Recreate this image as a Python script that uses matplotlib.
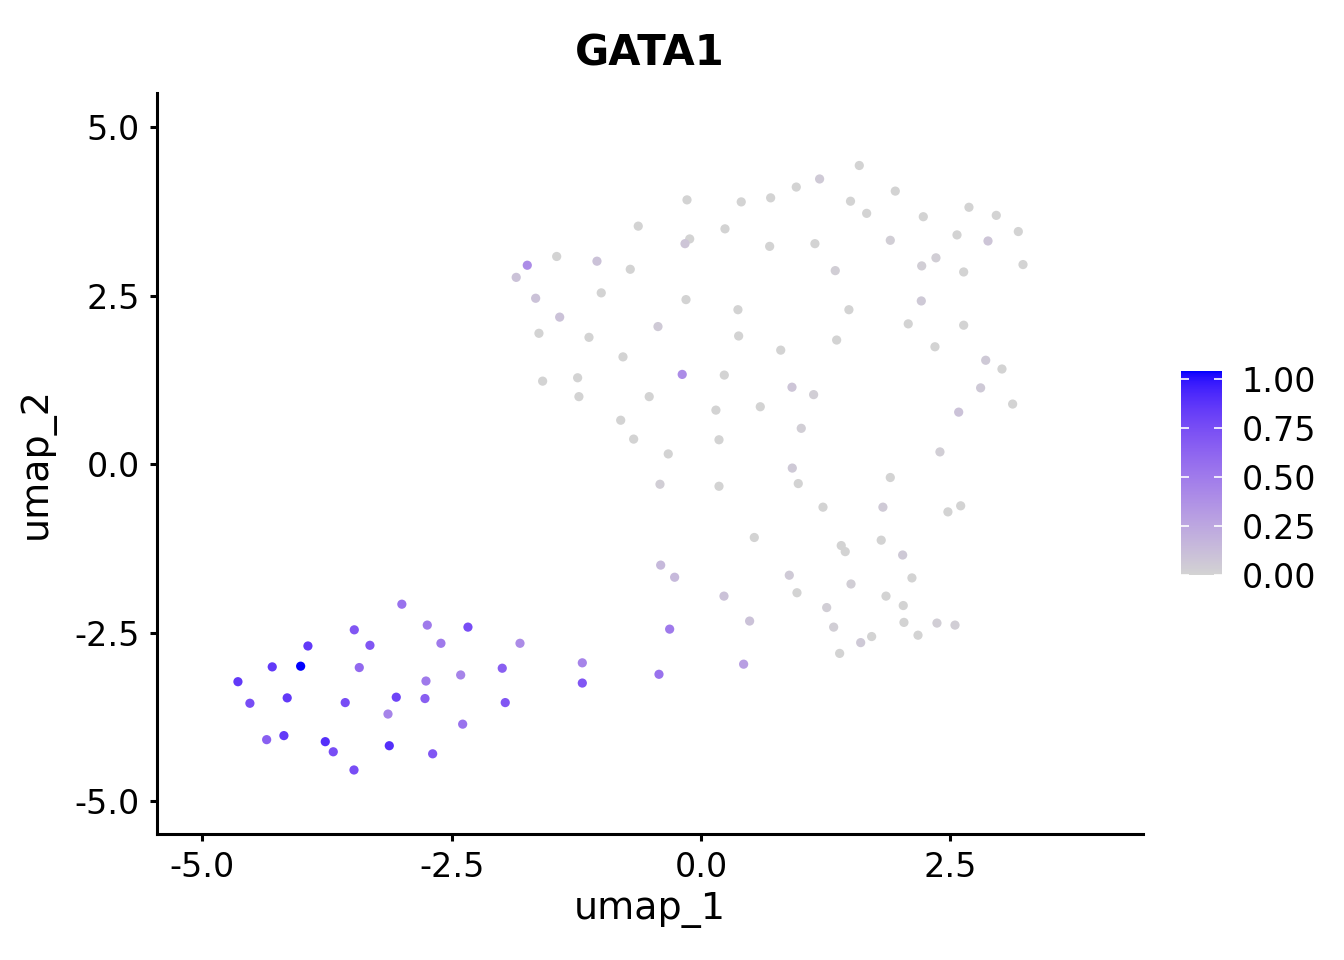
import numpy as np
import matplotlib
matplotlib.use('Agg')
import matplotlib.pyplot as plt
from matplotlib.colors import ListedColormap

# UMAP coordinates and GATA1 expression per cell
umap_1 = [
    -3.00, -2.745, -2.337, -3.477, -3.32, -2.608, -1.815, -3.942, -4.30, -4.015,
    -3.427, -1.993, -4.644, -2.758, -2.41, -4.524, -4.15, -3.568, -3.056, -2.768,
    -1.963, -3.139, -2.39, -4.356, -4.183, -3.768, -3.688, -3.126, -2.691, -3.48,
    0.535, -0.404, -0.264, 0.886, 0.963, 0.231, 0.488, -0.314, -1.19, -1.19,
    -0.421, 0.428,
    -0.14, 0.404, -0.629, 0.241, -0.113, -0.16, 0.689, -1.447, -1.742, -1.043,
    -0.709, -1.853, -1.658, -1.00, -0.15, 0.371, -1.417, -0.431, -1.625, -1.123,
    0.378, 0.80, -0.782, -0.188, 0.234, -1.588, -1.237, -1.224, -0.519, 0.913,
    1.588, 1.19, 0.956, 0.699, 1.949, 1.50, 1.662, 2.23, 2.688, 2.962,
    3.183, 2.568, 2.879, 1.143, 1.899, 2.357, 2.214, 2.635, 3.23, 1.347,
    2.21, 1.484, 2.079, 2.635, 1.361, 2.347,
    1.13, 0.15, 0.595, -0.805, -0.675, 0.181, 1.006, -0.328, 0.916, 1.899,
    -0.411, 0.181, 0.976, 1.224, 1.825, 1.808, 2.856, 3.019, 2.805, 3.126,
    2.585, 2.397, 2.477, 2.605, 1.407, 1.447, 2.023, 1.505, 2.116, 1.261,
    1.856, 2.029, 1.331, 2.036, 2.367, 2.548, 1.602, 1.712, 2.177, 1.391,
]
umap_2 = [
    -2.08, -2.39, -2.42, -2.46, -2.69, -2.66, -2.66, -2.70, -3.01, -3.00,
    -3.02, -3.03, -3.23, -3.22, -3.13, -3.55, -3.47, -3.54, -3.46, -3.48,
    -3.54, -3.71, -3.86, -4.09, -4.03, -4.12, -4.27, -4.18, -4.30, -4.54,
    -1.09, -1.50, -1.68, -1.65, -1.91, -1.96, -2.33, -2.45, -2.95, -3.25,
    -3.12, -2.97,
    3.92, 3.89, 3.53, 3.49, 3.34, 3.27, 3.23, 3.08, 2.95, 3.01,
    2.89, 2.77, 2.46, 2.54, 2.44, 2.29, 2.18, 2.04, 1.94, 1.88,
    1.90, 1.69, 1.59, 1.33, 1.32, 1.23, 1.28, 1.00, 1.00, 1.14,
    4.43, 4.23, 4.11, 3.95, 4.05, 3.90, 3.72, 3.67, 3.81, 3.69,
    3.45, 3.40, 3.31, 3.27, 3.32, 3.06, 2.94, 2.85, 2.96, 2.87,
    2.42, 2.29, 2.08, 2.06, 1.84, 1.74,
    1.03, 0.80, 0.85, 0.65, 0.37, 0.36, 0.53, 0.15, -0.06, -0.20,
    -0.30, -0.33, -0.29, -0.64, -0.64, -1.13, 1.54, 1.41, 1.13, 0.89,
    0.77, 0.18, -0.71, -0.62, -1.21, -1.30, -1.35, -1.78, -1.69, -2.13,
    -1.96, -2.10, -2.42, -2.35, -2.36, -2.39, -2.65, -2.56, -2.54, -2.81,
]
gata1 = [
    0.55, 0.50, 0.75, 0.70, 0.70, 0.50, 0.40, 0.85, 0.85, 1.04,
    0.60, 0.65, 0.85, 0.50, 0.45, 0.75, 0.85, 0.75, 0.80, 0.65,
    0.70, 0.45, 0.55, 0.65, 0.85, 0.90, 0.75, 0.90, 0.70, 0.75,
    0.00, 0.15, 0.15, 0.05, 0.00, 0.10, 0.10, 0.50, 0.45, 0.70,
    0.55, 0.30,
    0.00, 0.00, 0.00, 0.00, 0.00, 0.08, 0.00, 0.00, 0.40, 0.10,
    0.00, 0.10, 0.10, 0.00, 0.00, 0.00, 0.10, 0.05, 0.00, 0.00,
    0.00, 0.00, 0.00, 0.40, 0.00, 0.00, 0.00, 0.00, 0.00, 0.08,
    0.00, 0.05, 0.00, 0.00, 0.00, 0.00, 0.00, 0.00, 0.00, 0.00,
    0.00, 0.00, 0.08, 0.00, 0.03, 0.03, 0.03, 0.00, 0.00, 0.03,
    0.06, 0.00, 0.00, 0.00, 0.00, 0.00,
    0.03, 0.00, 0.00, 0.00, 0.00, 0.00, 0.03, 0.00, 0.06, 0.00,
    0.03, 0.00, 0.00, 0.00, 0.05, 0.00, 0.06, 0.00, 0.06, 0.00,
    0.10, 0.03, 0.00, 0.00, 0.00, 0.00, 0.06, 0.03, 0.00, 0.03,
    0.00, 0.00, 0.03, 0.00, 0.03, 0.03, 0.06, 0.00, 0.00, 0.00,
]


def srgb_to_lab(rgb):
    rgb = np.asarray(rgb, dtype=float)
    lin = np.where(rgb <= 0.04045, rgb / 12.92, ((rgb + 0.055) / 1.055) ** 2.4)
    m = np.array([[0.4124, 0.3576, 0.1805],
                  [0.2126, 0.7152, 0.0722],
                  [0.0193, 0.1192, 0.9505]])
    xyz = m @ lin / np.array([0.95047, 1.0, 1.08883])
    f = np.where(xyz > 0.008856, np.cbrt(xyz), 7.787 * xyz + 16 / 116)
    return np.array([116 * f[1] - 16, 500 * (f[0] - f[1]), 200 * (f[1] - f[2])])


def lab_to_srgb(lab):
    L, a, b = lab
    fy = (L + 16) / 116
    f = np.array([fy + a / 500, fy, fy - b / 200])
    xyz = np.where(f ** 3 > 0.008856, f ** 3, (f - 16 / 116) / 7.787)
    xyz = xyz * np.array([0.95047, 1.0, 1.08883])
    m_inv = np.array([[3.2406, -1.5372, -0.4986],
                      [-0.9689, 1.8758, 0.0415],
                      [0.0557, -0.2040, 1.0570]])
    lin = m_inv @ xyz
    rgb = np.where(lin <= 0.0031308, 12.92 * lin, 1.055 * np.abs(lin) ** (1 / 2.4) - 0.055)
    return np.clip(rgb, 0, 1)


# ggplot-style gradient lightgrey -> blue, interpolated in Lab
lab_lo = srgb_to_lab([211 / 255, 211 / 255, 211 / 255])
lab_hi = srgb_to_lab([0.0, 0.0, 1.0])
cols = [lab_to_srgb(lab_lo + t * (lab_hi - lab_lo)) for t in np.linspace(0, 1, 256)]
cmap = ListedColormap(cols)

plt.rcParams['font.family'] = ['DejaVu Sans']

fig = plt.figure(figsize=(6.72, 4.8), dpi=200)
ax = fig.add_axes([0.1168, 0.13125, 0.7336, 0.77175])

vals = np.array(gata1)
sc = ax.scatter(umap_1, umap_2, c=vals, cmap=cmap, vmin=0, vmax=vals.max(),
                s=11, linewidths=0)

ax.set_xlim(-5.456, 4.433)
ax.set_ylim(-5.49, 5.504)
ax.set_xticks([-5.0, -2.5, 0.0, 2.5])
ax.set_yticks([-5.0, -2.5, 0.0, 2.5, 5.0])
ax.set_xticklabels(['-5.0', '-2.5', '0.0', '2.5'])
ax.set_yticklabels(['-5.0', '-2.5', '0.0', '2.5', '5.0'])
for side in ['top', 'right']:
    ax.spines[side].set_visible(False)
for side in ['left', 'bottom']:
    ax.spines[side].set_linewidth(1.1)
ax.tick_params(length=2.6, width=1.1, labelsize=12, pad=3.5, colors='black')

ax.set_xlabel('umap_1', fontsize=13.7, labelpad=3)
ax.set_ylabel('umap_2', fontsize=13.7, labelpad=7)
ax.set_title('GATA1', fontsize=15, fontweight='bold', pad=10)

cax = fig.add_axes([0.8787, 0.401, 0.0305, 0.2125])
cb = fig.colorbar(sc, cax=cax, ticks=[0, 0.25, 0.5, 0.75, 1.0])
cb.outline.set_visible(False)
cb.ax.set_yticklabels(['0.00', '0.25', '0.50', '0.75', '1.00'])
cb.ax.tick_params(direction='in', color='white', length=2.9, width=0.6,
                  left=True, right=True, labelsize=12, pad=7)

plt.savefig('out.png', dpi=200)
